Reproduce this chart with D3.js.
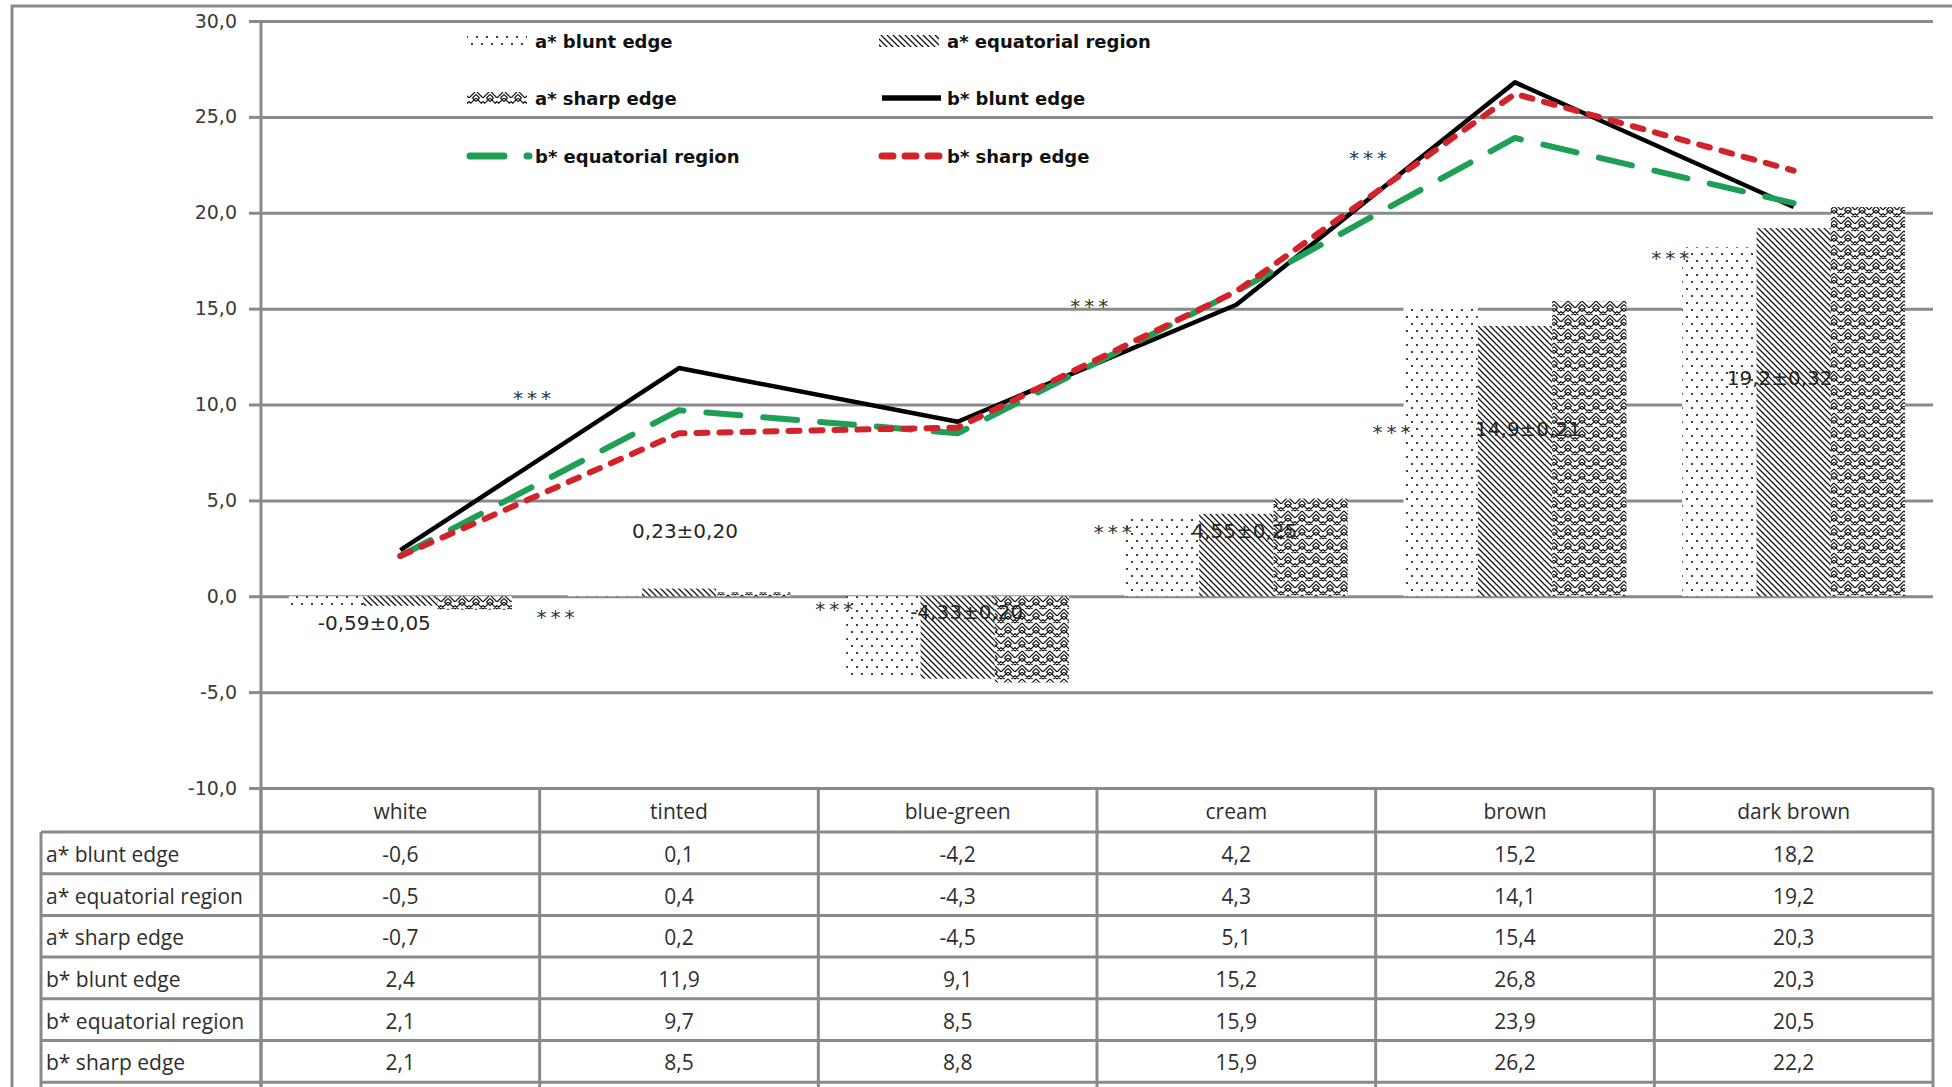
<!DOCTYPE html>
<html>
<head>
<meta charset="utf-8">
<script src="https://cdn.jsdelivr.net/npm/d3@7"></script>
<style>
  html, body { margin: 0; padding: 0; background: #fff; }
  svg { display: block; }
</style>
</head>
<body>
<svg id="chart" width="1952" height="1087"></svg>
<script>
// Egg shell colour: a* and b* coordinates by region and shell colour
const categories = ["white", "tinted", "blue-green", "cream", "brown", "dark brown"];

const aBlunt      = [-0.6, 0.1, -4.2, 4.2, 15.2, 18.2];
const aEquatorial = [-0.5, 0.4, -4.3, 4.3, 14.1, 19.2];
const aSharp      = [-0.7, 0.2, -4.5, 5.1, 15.4, 20.3];
const bBlunt      = [2.4, 11.9, 9.1, 15.2, 26.8, 20.3];
const bEquatorial = [2.1, 9.7, 8.5, 15.9, 23.9, 20.5];
const bSharp      = [2.1, 8.5, 8.8, 15.9, 26.2, 22.2];

// mean a* over the three regions ± standard error
const aMean  = [-0.59, 0.23, -4.33, 4.55, 14.9, 19.2];
const aError = [0.05, 0.20, 0.20, 0.25, 0.21, 0.32];

const yTicks = [-10, -5, 0, 5, 10, 15, 20, 25, 30];

const seriesNames = [
  "a* blunt edge", "a* equatorial region", "a* sharp edge",
  "b* blunt edge", "b* equatorial region", "b* sharp edge"
];

// significance markers (***): category and value where each sits
const sigA = [["tinted", -0.9], ["blue-green", -0.5], ["cream", 3.5], ["brown", 8.7], ["dark brown", 17.8]];
const sigB = [["tinted", 10.5], ["cream", 15.3], ["brown", 23.0]];

const locale = d3.formatLocale({ decimal: ",", thousands: " ", grouping: [3], currency: ["", ""], minus: "-" });
const f1 = locale.format(".1f");
const f2 = locale.format(".2f");
const fmtMean = v => (Math.abs(v) >= 10 ? f1(v) : f2(v));

const svg = d3.select("#chart");
const GRAY = "#8a8a8a";

const plotLeft = 261, plotRight = 1933, plotTop = 21, plotBottom = 788;

const x = d3.scaleBand().domain(categories).range([plotLeft, plotRight]).paddingInner(0.2).paddingOuter(0.1);
const step = (plotRight - plotLeft) / categories.length;
const y = d3.scaleLinear().domain([-10, 30]).range([plotBottom, plotTop]);

const barSeries = [
  { name: seriesNames[0], values: aBlunt, fill: "url(#dots)" },
  { name: seriesNames[1], values: aEquatorial, fill: "url(#diag)" },
  { name: seriesNames[2], values: aSharp, fill: "url(#weave)" }
];
const xSub = d3.scaleBand().domain(barSeries.map(d => d.name)).range([0, x.bandwidth()]);

const lineSeries = [
  { name: seriesNames[3], values: bBlunt, color: "#000000", dash: null, width: 4.5 },
  { name: seriesNames[4], values: bEquatorial, color: "#1f9e55", dash: "34,23", width: 6 },
  { name: seriesNames[5], values: bSharp, color: "#d2232a", dash: "11,12", width: 6 }
];

// ---- fill patterns ----
const defs = svg.append("defs");
const pDots = defs.append("pattern").attr("id", "dots").attr("patternUnits", "userSpaceOnUse")
  .attr("width", 10).attr("height", 14);
pDots.append("rect").attr("width", 10).attr("height", 14).attr("fill", "#fff");
pDots.append("circle").attr("cx", 2).attr("cy", 2).attr("r", 1.1).attr("fill", "#111");
pDots.append("circle").attr("cx", 7).attr("cy", 9).attr("r", 1.1).attr("fill", "#111");

const pDiag = defs.append("pattern").attr("id", "diag").attr("patternUnits", "userSpaceOnUse")
  .attr("width", 6).attr("height", 6);
pDiag.append("rect").attr("width", 6).attr("height", 6).attr("fill", "#fff");
pDiag.append("path").attr("d", "M-1,-1 L7,7 M-1,5 L1,7 M5,-1 L7,1")
  .attr("stroke", "#111").attr("stroke-width", 1.25);

const pWeave = defs.append("pattern").attr("id", "weave").attr("patternUnits", "userSpaceOnUse")
  .attr("width", 14).attr("height", 14);
pWeave.append("rect").attr("width", 14).attr("height", 14).attr("fill", "#fff");
pWeave.append("path")
  .attr("d", "M0,0 L7,7 L14,0 M0,7 L7,14 L14,7 M0,3.5 L3.5,0 M10.5,0 L14,3.5 M3.5,7 L7,3.5 M7,3.5 L10.5,7 M0,10.5 L3.5,14 M10.5,14 L14,10.5")
  .attr("stroke", "#111").attr("stroke-width", 1.2).attr("fill", "none");

// ---- outer frame ----
svg.append("path").attr("d", "M12,1087 L12,6 L1952,6")
  .attr("fill", "none").attr("stroke", GRAY).attr("stroke-width", 3);

// ---- gridlines and y axis ----
const gridAxis = d3.axisLeft(y).tickValues(yTicks).tickSize(-(plotRight - plotLeft)).tickFormat("");
svg.append("g").attr("transform", `translate(${plotLeft},0)`).call(gridAxis)
  .call(g => g.select(".domain").remove())
  .call(g => g.selectAll("line").attr("stroke", GRAY).attr("stroke-width", 3));

const yAxis = d3.axisLeft(y).tickValues(yTicks).tickSize(12).tickPadding(12).tickFormat(f1);
svg.append("g").attr("transform", `translate(${plotLeft},0)`).call(yAxis)
  .call(g => g.select(".domain").remove())
  .call(g => g.selectAll("line").attr("stroke", GRAY).attr("stroke-width", 3))
  .call(g => g.selectAll("text").attr("font-family", "DejaVu Sans").attr("font-size", 19).attr("fill", "#3a3a3a"));

// ---- bars ----
const barG = svg.append("g");
barSeries.forEach(s => {
  barG.selectAll(null).data(categories).enter().append("rect")
    .attr("x", (c) => x(c) + xSub(s.name))
    .attr("width", xSub.bandwidth())
    .attr("y", (c, i) => y(Math.max(0, s.values[i])))
    .attr("height", (c, i) => Math.abs(y(s.values[i]) - y(0)))
    .attr("fill", s.fill);
});

// vertical axis line (continues as the table's first column border)
svg.append("line").attr("x1", plotLeft).attr("x2", plotLeft).attr("y1", plotTop).attr("y2", 1087)
  .attr("stroke", GRAY).attr("stroke-width", 3);

// ---- mean ± SE labels ----
const meanDx = [-26, 6, 9, 8, 13, -14];
const meanVal = [-1.4, 3.4, -0.8, 3.4, 8.7, 11.4];
svg.append("g").selectAll("text").data(categories).enter().append("text")
  .attr("x", (c, i) => x(c) + x.bandwidth() / 2 + meanDx[i])
  .attr("y", (c, i) => y(meanVal[i]))
  .attr("text-anchor", "middle").attr("dominant-baseline", "central")
  .attr("font-family", "DejaVu Sans").attr("font-size", 20).attr("fill", "#262626")
  .text((c, i) => `${fmtMean(aMean[i])}±${f2(aError[i])}`);

// ---- b* lines ----
const line = d3.line().x(d => x(d.c) + x.bandwidth() / 2).y(d => y(d.v));
lineSeries.forEach(s => {
  svg.append("path")
    .datum(categories.map((c, i) => ({ c, v: s.values[i] })))
    .attr("d", line)
    .attr("fill", "none")
    .attr("stroke", s.color)
    .attr("stroke-width", s.width)
    .attr("stroke-linejoin", "round")
    .attr("stroke-linecap", s.dash ? "round" : "butt")
    .attr("stroke-dasharray", s.dash);
});

// ---- significance markers ----
const sigStyle = sel => sel.attr("text-anchor", "middle").attr("dominant-baseline", "central")
  .attr("font-family", "DejaVu Sans").attr("font-size", 20).attr("letter-spacing", 4).attr("fill", "#333")
  .text("***");
svg.append("g").selectAll("text").data(sigA).enter().append("text")
  .attr("x", d => x(d[0]) - 10)
  .attr("y", d => y(d[1]) + 3)
  .call(sigStyle);
svg.append("g").selectAll("text").data(sigB).enter().append("text")
  .attr("x", d => x(d[0]) + x.bandwidth() / 2 - 145)
  .attr("y", d => y(d[1]) + 3)
  .call(sigStyle);

// ---- legend ----
const legend = svg.append("g").attr("font-family", "DejaVu Sans").attr("font-weight", "bold")
  .attr("font-size", 18).attr("fill", "#111");
const legendItems = [
  { name: seriesNames[0], kind: "bar", fill: "url(#dots)", col: 0, row: 0 },
  { name: seriesNames[1], kind: "bar", fill: "url(#diag)", col: 1, row: 0 },
  { name: seriesNames[2], kind: "bar", fill: "url(#weave)", col: 0, row: 1 },
  { name: seriesNames[3], kind: "line", s: lineSeries[0], col: 1, row: 1 },
  { name: seriesNames[4], kind: "line", s: lineSeries[1], col: 0, row: 2 },
  { name: seriesNames[5], kind: "line", s: lineSeries[2], col: 1, row: 2 }
];
const colX = [467, 879], rowY = [41, 98, 156];
legendItems.forEach(it => {
  const lx = colX[it.col], ly = rowY[it.row];
  if (it.kind === "bar") {
    legend.append("rect").attr("x", lx).attr("y", ly - 6).attr("width", 60).attr("height", 12).attr("fill", it.fill);
  } else {
    legend.append("line").attr("x1", lx + 3).attr("x2", lx + 62).attr("y1", ly).attr("y2", ly)
      .attr("stroke", it.s.color).attr("stroke-width", it.s.width + 1)
      .attr("stroke-linecap", it.s.dash ? "round" : "butt")
      .attr("stroke-dasharray", it.s.dash);
  }
  legend.append("text").attr("x", lx + 68).attr("y", ly).attr("dominant-baseline", "central").text(it.name);
});

// ---- data table ----
const tableValues = [aBlunt, aEquatorial, aSharp, bBlunt, bEquatorial, bSharp];
const headTop = plotBottom, headH = 44, rowH = 41.7;
const tableLeft = 41;
const tbl = svg.append("g").attr("font-family", "Open Sans").attr("font-size", 21).attr("fill", "#2e2e2e");

// header cells
tbl.selectAll(".hd").data(categories).enter().append("text")
  .attr("x", (c, i) => plotLeft + step * (i + 0.5))
  .attr("y", headTop + headH / 2 + 1)
  .attr("text-anchor", "middle").attr("dominant-baseline", "central")
  .text(c => c);

// body rows
seriesNames.forEach((name, r) => {
  const cy = headTop + headH + rowH * (r + 0.5);
  tbl.append("text").attr("x", tableLeft + 5).attr("y", cy + 1).attr("dominant-baseline", "central").text(name);
  tbl.selectAll(null).data(tableValues[r]).enter().append("text")
    .attr("x", (v, i) => plotLeft + step * (i + 0.5))
    .attr("y", cy + 1)
    .attr("text-anchor", "middle").attr("dominant-baseline", "central")
    .text(v => f1(v));
});

// table rules
const rules = svg.append("g").attr("stroke", GRAY).attr("stroke-width", 3);
d3.range(categories.length + 1).forEach(i => {
  rules.append("line").attr("x1", plotLeft + step * i).attr("x2", plotLeft + step * i)
    .attr("y1", headTop).attr("y2", 1087);
});
rules.append("line").attr("x1", tableLeft).attr("x2", tableLeft)
  .attr("y1", headTop + headH).attr("y2", 1087);
d3.range(seriesNames.length + 1).forEach(r => {
  const yy = headTop + headH + rowH * r;
  rules.append("line").attr("x1", tableLeft).attr("x2", plotRight).attr("y1", yy).attr("y2", yy);
});
</script>
</body>
</html>
